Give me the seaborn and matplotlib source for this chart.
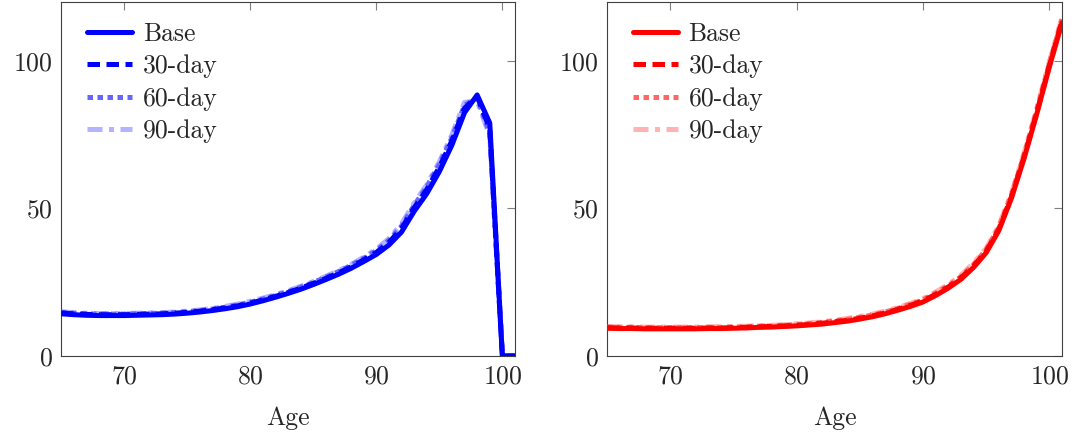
import matplotlib
matplotlib.use("Agg")
import matplotlib.pyplot as plt
import seaborn as sns
import pandas as pd

ages = list(range(65, 102))

# left panel (blue)
left_base = [14.3, 14.0, 13.8, 13.7, 13.7, 13.7, 13.8, 13.9, 14.0, 14.2,
             14.5, 14.9, 15.4, 16.0, 16.7, 17.6, 18.7, 19.9, 21.2, 22.6,
             24.2, 25.9, 27.7, 29.7, 32.0, 34.4, 37.6, 42.0, 49.0, 55.0,
             62.5, 71.5, 82.5, 88.5, 79.0, 0.0, 0.0]
left_30 = [14.6, 14.3, 14.1, 14.0, 14.0, 14.0, 14.1, 14.2, 14.3, 14.5,
           14.8, 15.2, 15.7, 16.3, 17.0, 17.9, 19.0, 20.2, 21.5, 23.0,
           24.6, 26.3, 28.2, 30.2, 32.6, 35.1, 38.5, 43.2, 50.2, 56.4,
           64.0, 73.0, 84.0, 88.0, 77.0, 0.0, 0.0]
left_60 = [14.8, 14.5, 14.3, 14.2, 14.2, 14.2, 14.3, 14.4, 14.5, 14.7,
           15.0, 15.4, 15.9, 16.5, 17.3, 18.2, 19.3, 20.5, 21.8, 23.3,
           24.9, 26.7, 28.6, 30.7, 33.1, 35.7, 39.2, 44.0, 51.0, 57.3,
           65.0, 74.0, 85.0, 87.5, 75.5, 0.0, 0.0]
left_90 = [15.0, 14.7, 14.5, 14.4, 14.4, 14.4, 14.5, 14.6, 14.7, 14.9,
           15.2, 15.6, 16.1, 16.8, 17.6, 18.5, 19.6, 20.8, 22.1, 23.6,
           25.2, 27.0, 28.9, 31.0, 33.5, 36.2, 39.8, 44.8, 51.8, 58.0,
           65.8, 75.0, 86.0, 86.5, 74.5, 0.0, 0.0]

# right panel (red)
right_base = [9.4, 9.3, 9.3, 9.2, 9.2, 9.2, 9.2, 9.2, 9.3, 9.3,
              9.4, 9.5, 9.7, 9.8, 10.0, 10.2, 10.5, 10.8, 11.3, 11.8,
              12.5, 13.3, 14.3, 15.5, 16.8, 18.3, 20.5, 23.0, 26.0, 30.0,
              35.0, 42.5, 53.5, 67.0, 82.0, 98.0, 113.0]
right_30 = [9.6, 9.5, 9.5, 9.4, 9.4, 9.4, 9.4, 9.4, 9.5, 9.5,
            9.6, 9.7, 9.9, 10.0, 10.2, 10.4, 10.7, 11.1, 11.6, 12.1,
            12.8, 13.6, 14.6, 15.8, 17.2, 18.7, 20.9, 23.4, 26.5, 30.5,
            35.5, 43.0, 54.0, 67.5, 82.5, 98.5, 113.5]
right_60 = [9.8, 9.7, 9.7, 9.6, 9.6, 9.6, 9.6, 9.6, 9.7, 9.7,
            9.8, 9.9, 10.1, 10.2, 10.4, 10.7, 11.0, 11.4, 11.9, 12.4,
            13.1, 13.9, 14.9, 16.1, 17.5, 19.0, 21.3, 23.8, 26.9, 31.0,
            36.0, 43.6, 54.6, 68.2, 83.2, 99.2, 114.2]
right_90 = [10.0, 9.9, 9.9, 9.8, 9.8, 9.8, 9.8, 9.8, 9.9, 9.9,
            10.0, 10.1, 10.3, 10.4, 10.6, 10.9, 11.2, 11.6, 12.1, 12.7,
            13.4, 14.2, 15.2, 16.4, 17.8, 19.4, 21.7, 24.2, 27.4, 31.5,
            36.5, 44.2, 55.2, 68.8, 83.8, 99.8, 114.8]

labels = ["Base", "30-day", "60-day", "90-day"]
blue_colors = ["#0000ff", "#0000ff", "#6666ff", "#b3b3ff"]
red_colors = ["#ff0000", "#ff0000", "#ff6666", "#ffb3b3"]
styles = ["-", (0, (2.5, 1.3)), (0, (1.1, 0.9)), (0, (3, 1.3, 1, 1.3))]
zorders = [5, 4, 3, 2]

sns.set_style("white")
plt.rcParams["font.family"] = ["serif"]
plt.rcParams["font.serif"] = ["cmr10", "DejaVu Serif"]
plt.rcParams["axes.formatter.use_mathtext"] = True
plt.rcParams["mathtext.fontset"] = "cm"

fig = plt.figure(figsize=(10.76, 4.37), dpi=100)
ax1 = fig.add_axes([0.0567, 0.1854, 0.4219, 0.81])
ax2 = fig.add_axes([0.5641, 0.1854, 0.4229, 0.81])


def draw(ax, series, colors):
    for vals, lab, col, ls, z in zip(series, labels, colors, styles, zorders):
        df = pd.DataFrame({"Age": ages, "v": vals})
        sns.lineplot(data=df, x="Age", y="v", ax=ax, color=col, lw=3.6,
                     linestyle=ls, label=lab, zorder=z)
    ax.set_xlim(65, 101)
    ax.set_ylim(0, 120)
    ax.set_xticks([70, 80, 90, 100])
    ax.set_yticks([0, 50, 100])
    ax.set_xlabel("Age", fontsize=18.5, labelpad=13)
    ax.set_ylabel("")
    ax.tick_params(direction="in", length=6, width=0.8, color="#808080",
                   top=True, right=True, labelsize=18.5, pad=6)
    for s in ax.spines.values():
        s.set_color("#404040")
        s.set_linewidth(0.8)
    ax.legend(loc="upper left", bbox_to_anchor=(0.014, 1.0), frameon=False,
              fontsize=18.5, handlelength=1.75, handletextpad=0.4,
              labelspacing=0.34, borderaxespad=0.5, borderpad=0.28)


draw(ax1, [left_base, left_30, left_60, left_90], blue_colors)
draw(ax2, [right_base, right_30, right_60, right_90], red_colors)

fig.savefig("out.png", dpi=100)
